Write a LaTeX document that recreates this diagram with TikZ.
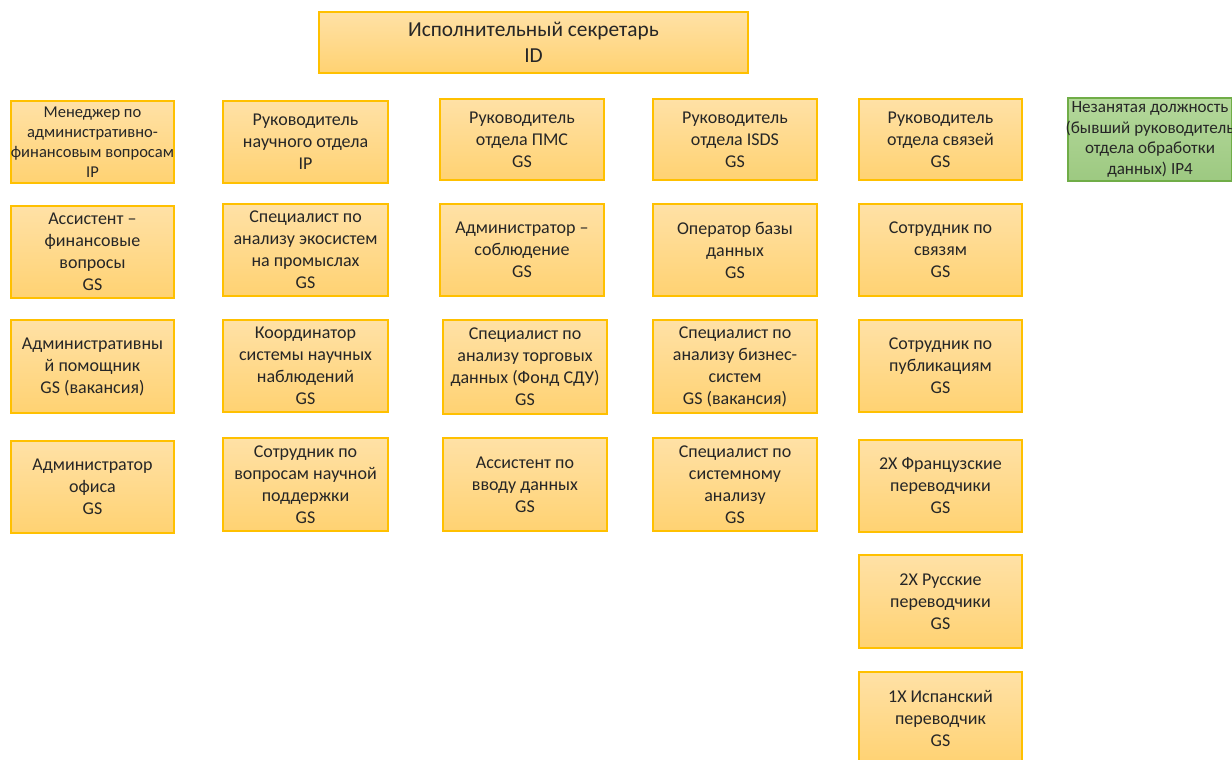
\documentclass[tikz,border=0pt]{standalone}
\usepackage{fontspec}
\setmainfont{Carlito}
\usepackage{tikz}
\definecolor{goldline}{HTML}{FFC000}
\definecolor{goldtop}{HTML}{FFE1A6}
\definecolor{goldbot}{HTML}{FFD272}
\definecolor{greenline}{HTML}{70AD47}
\definecolor{greentop}{HTML}{B4D89B}
\definecolor{greenbot}{HTML}{9DC981}
\tikzset{
  post/.style={draw=goldline, line width=0.9pt, top color=goldtop, bottom color=goldbot,
    align=center, text=black!85, inner sep=1pt, font=\fontsize{13.5}{16.5}\selectfont},
  vacant/.style={post, draw=greenline, top color=greentop, bottom color=greenbot,
    font=\fontsize{12.8}{15.6}\selectfont},
  dims/.style 2 args={minimum width=#1*0.75pt, minimum height=#2*0.75pt}
}

\begin{document}
\begin{tikzpicture}[x=0.75pt, y=-0.75pt]
		\useasboundingbox (0,0) rectangle (1232,760);
		\node[post, dims={429}{61}, font=\fontsize{16}{19.5}\selectfont] (secretary) at (533.5,42.5) {Исполнительный секретарь\\ID};

		\node[post, dims={163}{82}, inner sep=0pt, font=\fontsize{12.4}{15}\selectfont] (adminmgr) at (92.5,142) {Менеджер по\\административно-\\\makebox[0pt]{финансовым вопросам}\\IP};
		\node[post, dims={163}{92}] (finassist) at (92.5,252) {Ассистент –\\финансовые\\вопросы\\GS};
		\node[post, dims={163}{93}] (adminassist) at (92.5,366.5) {Административны\\й помощник\\GS (вакансия)};
		\node[post, dims={163}{92}] (officeadmin) at (92.5,487) {Администратор\\офиса\\GS};

		\node[post, dims={165}{82}] (scihead) at (305.5,142) {Руководитель\\научного отдела\\IP};
		\node[post, dims={165}{92}] (ecospec) at (305.5,250) {Специалист по\\анализу экосистем\\на промыслах\\GS};
		\node[post, dims={165}{92}] (obscoord) at (305.5,366) {Координатор\\системы научных\\наблюдений\\GS};
		\node[post, dims={165}{93}] (sciofficer) at (305.5,484.5) {Сотрудник по\\вопросам научной\\поддержки\\GS};

		\node[post, dims={164}{81}] (pmshead) at (522,139.5) {Руководитель\\отдела ПМС\\GS};
		\node[post, dims={164}{92}] (compladmin) at (522,250) {Администратор –\\соблюдение\\GS};
		\node[post, dims={164}{94}] (tradespec) at (525,367) {Специалист по\\анализу торговых\\данных (Фонд СДУ)\\GS};
		\node[post, dims={164}{93}] (dataassist) at (525,484.5) {Ассистент по\\вводу данных\\GS};

		\node[post, dims={164}{81}] (isdshead) at (735,139.5) {Руководитель\\отдела ISDS\\GS};
		\node[post, dims={164}{92}] (dboperator) at (735,250) {Оператор базы\\данных\\GS};
		\node[post, dims={164}{93}] (bizspec) at (735,366.5) {Специалист по\\анализу бизнес-\\систем\\GS (вакансия)};
		\node[post, dims={164}{93}] (sysspec) at (735,484.5) {Специалист по\\системному\\анализу\\GS};

		\node[post, dims={163}{81}] (commhead) at (940.5,139.5) {Руководитель\\отдела связей\\GS};
		\node[post, dims={163}{92}] (commofficer) at (940.5,250) {Сотрудник по\\связям\\GS};
		\node[post, dims={163}{92}] (pubofficer) at (940.5,366) {Сотрудник по\\публикациям\\GS};
		\node[post, dims={163}{92}] (frtrans) at (940.5,486) {2X Французские\\переводчики\\GS};
		\node[post, dims={163}{93}] (rutrans) at (940.5,601.5) {2X Русские\\переводчики\\GS};
		\node[post, dims={163}{93}] (estrans) at (940.5,718.5) {1X Испанский\\переводчик\\GS};

		\node[vacant, dims={164}{83}] (vacancy) at (1150,139.5) {Незанятая должность\\\makebox[0pt]{(бывший руководитель}\\отдела обработки\\данных) IP4};
	\end{tikzpicture}
\end{document}
